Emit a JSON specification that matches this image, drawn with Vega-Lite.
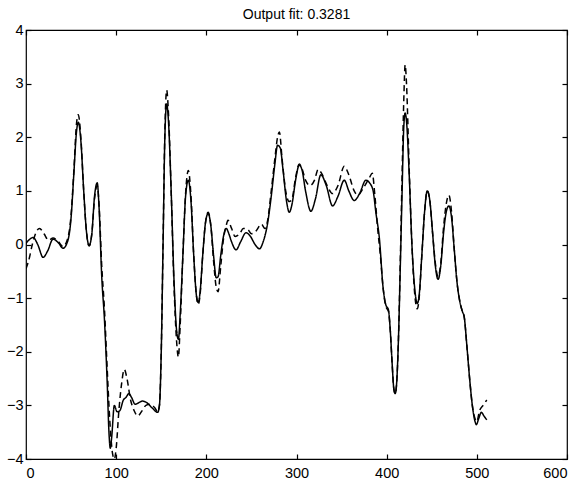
{
  "$schema": "https://vega.github.io/schema/vega-lite/v6.json",
  "width": 541,
  "height": 429,
  "autosize": {"type": "none"},
  "padding": {"left": 26, "top": 30, "right": 13, "bottom": 23},
  "background": "white",
  "title": {"text": "Output fit: 0.3281", "font": "Liberation Sans", "fontSize": 14, "fontWeight": "normal", "color": "black", "offset": 0},
  "config": {
    "view": {"stroke": "black", "strokeWidth": 1.2},
    "axis": {"domain": false, "tickColor": "black", "tickWidth": 1.2, "labelColor": "black", "labelFont": "Liberation Sans", "labelFontSize": 14.5, "grid": false, "tickSize": 5, "offset": -5, "title": null}
  },
  "data": {"values": [
    {"x":0,"y":0.02,"s":"solid"},{"x":3,"y":0.08,"s":"solid"},{"x":8,"y":0.13,"s":"solid"},{"x":13,"y":0.0,"s":"solid"},{"x":19,"y":-0.24,"s":"solid"},{"x":24,"y":-0.12,"s":"solid"},{"x":30,"y":0.1,"s":"solid"},{"x":36,"y":0.03,"s":"solid"},{"x":41,"y":-0.07,"s":"solid"},{"x":46,"y":0.05,"s":"solid"},{"x":50,"y":0.5,"s":"solid"},{"x":53,"y":1.3,"s":"solid"},{"x":56,"y":2.1,"s":"solid"},{"x":58,"y":2.28,"s":"solid"},{"x":61,"y":1.9,"s":"solid"},{"x":64,"y":1.0,"s":"solid"},{"x":67,"y":0.25,"s":"solid"},{"x":70,"y":-0.02,"s":"solid"},{"x":73,"y":0.2,"s":"solid"},{"x":76,"y":0.9,"s":"solid"},{"x":79,"y":1.15,"s":"solid"},{"x":81,"y":0.7,"s":"solid"},{"x":84,"y":-0.6,"s":"solid"},{"x":87,"y":-1.4,"s":"solid"},{"x":90,"y":-2.55,"s":"solid"},{"x":92,"y":-3.5,"s":"solid"},{"x":93.5,"y":-3.8,"s":"solid"},{"x":95,"y":-3.6,"s":"solid"},{"x":98,"y":-3.0,"s":"solid"},{"x":101,"y":-3.12,"s":"solid"},{"x":104,"y":-3.1,"s":"solid"},{"x":108,"y":-2.9,"s":"solid"},{"x":111,"y":-2.85,"s":"solid"},{"x":114,"y":-2.78,"s":"solid"},{"x":117,"y":-2.85,"s":"solid"},{"x":121,"y":-2.98,"s":"solid"},{"x":125,"y":-2.95,"s":"solid"},{"x":129,"y":-2.92,"s":"solid"},{"x":134,"y":-2.95,"s":"solid"},{"x":140,"y":-3.05,"s":"solid"},{"x":146,"y":-3.13,"s":"solid"},{"x":148,"y":-3.0,"s":"solid"},{"x":150,"y":-2.0,"s":"solid"},{"x":152,"y":0.0,"s":"solid"},{"x":154,"y":2.0,"s":"solid"},{"x":156,"y":2.62,"s":"solid"},{"x":158,"y":2.3,"s":"solid"},{"x":161,"y":1.0,"s":"solid"},{"x":164,"y":-0.6,"s":"solid"},{"x":167,"y":-1.6,"s":"solid"},{"x":169,"y":-1.77,"s":"solid"},{"x":171,"y":-1.3,"s":"solid"},{"x":174,"y":-0.2,"s":"solid"},{"x":177,"y":0.9,"s":"solid"},{"x":180,"y":1.2,"s":"solid"},{"x":183,"y":0.8,"s":"solid"},{"x":186,"y":-0.2,"s":"solid"},{"x":189,"y":-0.95,"s":"solid"},{"x":191,"y":-1.08,"s":"solid"},{"x":193,"y":-0.9,"s":"solid"},{"x":196,"y":-0.2,"s":"solid"},{"x":199,"y":0.4,"s":"solid"},{"x":202,"y":0.58,"s":"solid"},{"x":205,"y":0.35,"s":"solid"},{"x":208,"y":-0.2,"s":"solid"},{"x":211,"y":-0.62,"s":"solid"},{"x":213,"y":-0.6,"s":"solid"},{"x":216,"y":-0.2,"s":"solid"},{"x":219,"y":0.15,"s":"solid"},{"x":222,"y":0.3,"s":"solid"},{"x":225,"y":0.2,"s":"solid"},{"x":228,"y":0.05,"s":"solid"},{"x":233,"y":-0.1,"s":"solid"},{"x":238,"y":0.05,"s":"solid"},{"x":244,"y":0.22,"s":"solid"},{"x":249,"y":0.15,"s":"solid"},{"x":254,"y":0.0,"s":"solid"},{"x":259,"y":-0.08,"s":"solid"},{"x":263,"y":0.05,"s":"solid"},{"x":268,"y":0.4,"s":"solid"},{"x":272,"y":0.9,"s":"solid"},{"x":276,"y":1.5,"s":"solid"},{"x":279,"y":1.85,"s":"solid"},{"x":282,"y":1.8,"s":"solid"},{"x":285,"y":1.4,"s":"solid"},{"x":289,"y":0.8,"s":"solid"},{"x":292,"y":0.6,"s":"solid"},{"x":295,"y":0.75,"s":"solid"},{"x":299,"y":1.2,"s":"solid"},{"x":303,"y":1.48,"s":"solid"},{"x":306,"y":1.4,"s":"solid"},{"x":310,"y":1.0,"s":"solid"},{"x":316,"y":0.62,"s":"solid"},{"x":321,"y":0.85,"s":"solid"},{"x":327,"y":1.3,"s":"solid"},{"x":333,"y":1.1,"s":"solid"},{"x":340,"y":0.72,"s":"solid"},{"x":346,"y":0.9,"s":"solid"},{"x":353,"y":1.2,"s":"solid"},{"x":358,"y":1.0,"s":"solid"},{"x":364,"y":0.82,"s":"solid"},{"x":370,"y":0.95,"s":"solid"},{"x":377,"y":1.2,"s":"solid"},{"x":381,"y":1.15,"s":"solid"},{"x":385,"y":1.0,"s":"solid"},{"x":388,"y":0.6,"s":"solid"},{"x":392,"y":0.1,"s":"solid"},{"x":396,"y":-0.8,"s":"solid"},{"x":399,"y":-1.12,"s":"solid"},{"x":402,"y":-1.22,"s":"solid"},{"x":404,"y":-1.6,"s":"solid"},{"x":406,"y":-2.2,"s":"solid"},{"x":408,"y":-2.7,"s":"solid"},{"x":409.5,"y":-2.78,"s":"solid"},{"x":411,"y":-2.6,"s":"solid"},{"x":413,"y":-1.8,"s":"solid"},{"x":415,"y":-0.5,"s":"solid"},{"x":417,"y":0.9,"s":"solid"},{"x":419,"y":2.2,"s":"solid"},{"x":420.5,"y":2.45,"s":"solid"},{"x":422,"y":2.3,"s":"solid"},{"x":425,"y":1.3,"s":"solid"},{"x":428,"y":0.0,"s":"solid"},{"x":431,"y":-0.8,"s":"solid"},{"x":434,"y":-1.1,"s":"solid"},{"x":436,"y":-0.95,"s":"solid"},{"x":439,"y":-0.2,"s":"solid"},{"x":442,"y":0.6,"s":"solid"},{"x":445,"y":1.0,"s":"solid"},{"x":448,"y":0.8,"s":"solid"},{"x":451,"y":0.2,"s":"solid"},{"x":454,"y":-0.4,"s":"solid"},{"x":457,"y":-0.65,"s":"solid"},{"x":460,"y":-0.4,"s":"solid"},{"x":463,"y":0.2,"s":"solid"},{"x":466,"y":0.6,"s":"solid"},{"x":469,"y":0.72,"s":"solid"},{"x":472,"y":0.5,"s":"solid"},{"x":475,"y":-0.1,"s":"solid"},{"x":478,"y":-0.7,"s":"solid"},{"x":481,"y":-1.05,"s":"solid"},{"x":484,"y":-1.25,"s":"solid"},{"x":486,"y":-1.35,"s":"solid"},{"x":489,"y":-1.9,"s":"solid"},{"x":492,"y":-2.5,"s":"solid"},{"x":495,"y":-3.0,"s":"solid"},{"x":498,"y":-3.3,"s":"solid"},{"x":499.5,"y":-3.36,"s":"solid"},{"x":502,"y":-3.25,"s":"solid"},{"x":505,"y":-3.13,"s":"solid"},{"x":508,"y":-3.2,"s":"solid"},{"x":511,"y":-3.27,"s":"solid"},
    {"x":0,"y":-0.45,"s":"dashed"},{"x":3,"y":-0.3,"s":"dashed"},{"x":7,"y":0.0,"s":"dashed"},{"x":11,"y":0.22,"s":"dashed"},{"x":15,"y":0.3,"s":"dashed"},{"x":20,"y":0.2,"s":"dashed"},{"x":25,"y":0.08,"s":"dashed"},{"x":30,"y":0.12,"s":"dashed"},{"x":36,"y":0.05,"s":"dashed"},{"x":41,"y":-0.04,"s":"dashed"},{"x":46,"y":0.1,"s":"dashed"},{"x":50,"y":0.55,"s":"dashed"},{"x":53,"y":1.35,"s":"dashed"},{"x":56,"y":2.25,"s":"dashed"},{"x":58,"y":2.42,"s":"dashed"},{"x":61,"y":1.95,"s":"dashed"},{"x":64,"y":1.0,"s":"dashed"},{"x":67,"y":0.25,"s":"dashed"},{"x":70,"y":-0.03,"s":"dashed"},{"x":73,"y":0.2,"s":"dashed"},{"x":76,"y":0.85,"s":"dashed"},{"x":79,"y":1.1,"s":"dashed"},{"x":81,"y":0.75,"s":"dashed"},{"x":84,"y":-0.4,"s":"dashed"},{"x":87,"y":-1.2,"s":"dashed"},{"x":90,"y":-2.3,"s":"dashed"},{"x":93,"y":-3.3,"s":"dashed"},{"x":96,"y":-3.9,"s":"dashed"},{"x":98,"y":-4.0,"s":"dashed"},{"x":100,"y":-3.8,"s":"dashed"},{"x":103,"y":-3.1,"s":"dashed"},{"x":106,"y":-2.6,"s":"dashed"},{"x":109,"y":-2.33,"s":"dashed"},{"x":112,"y":-2.5,"s":"dashed"},{"x":116,"y":-2.9,"s":"dashed"},{"x":120,"y":-3.1,"s":"dashed"},{"x":124,"y":-3.2,"s":"dashed"},{"x":128,"y":-3.12,"s":"dashed"},{"x":133,"y":-3.0,"s":"dashed"},{"x":138,"y":-2.98,"s":"dashed"},{"x":143,"y":-3.05,"s":"dashed"},{"x":146,"y":-3.12,"s":"dashed"},{"x":148,"y":-3.0,"s":"dashed"},{"x":150,"y":-2.0,"s":"dashed"},{"x":152,"y":0.0,"s":"dashed"},{"x":154,"y":2.1,"s":"dashed"},{"x":156,"y":2.88,"s":"dashed"},{"x":158,"y":2.45,"s":"dashed"},{"x":161,"y":1.0,"s":"dashed"},{"x":164,"y":-0.7,"s":"dashed"},{"x":167,"y":-1.8,"s":"dashed"},{"x":169,"y":-2.1,"s":"dashed"},{"x":171,"y":-1.5,"s":"dashed"},{"x":174,"y":-0.2,"s":"dashed"},{"x":177,"y":0.95,"s":"dashed"},{"x":180,"y":1.38,"s":"dashed"},{"x":183,"y":0.9,"s":"dashed"},{"x":186,"y":-0.2,"s":"dashed"},{"x":189,"y":-0.95,"s":"dashed"},{"x":191,"y":-1.12,"s":"dashed"},{"x":193,"y":-0.95,"s":"dashed"},{"x":196,"y":-0.2,"s":"dashed"},{"x":199,"y":0.4,"s":"dashed"},{"x":202,"y":0.6,"s":"dashed"},{"x":205,"y":0.35,"s":"dashed"},{"x":208,"y":-0.3,"s":"dashed"},{"x":211,"y":-0.8,"s":"dashed"},{"x":213,"y":-0.88,"s":"dashed"},{"x":216,"y":-0.4,"s":"dashed"},{"x":219,"y":0.1,"s":"dashed"},{"x":222,"y":0.35,"s":"dashed"},{"x":224,"y":0.45,"s":"dashed"},{"x":228,"y":0.3,"s":"dashed"},{"x":232,"y":0.15,"s":"dashed"},{"x":237,"y":0.2,"s":"dashed"},{"x":241,"y":0.3,"s":"dashed"},{"x":246,"y":0.28,"s":"dashed"},{"x":250,"y":0.2,"s":"dashed"},{"x":255,"y":0.25,"s":"dashed"},{"x":261,"y":0.38,"s":"dashed"},{"x":265,"y":0.3,"s":"dashed"},{"x":268,"y":0.45,"s":"dashed"},{"x":272,"y":1.0,"s":"dashed"},{"x":276,"y":1.6,"s":"dashed"},{"x":279,"y":2.0,"s":"dashed"},{"x":281,"y":2.1,"s":"dashed"},{"x":284,"y":1.6,"s":"dashed"},{"x":288,"y":1.0,"s":"dashed"},{"x":292,"y":0.8,"s":"dashed"},{"x":295,"y":0.85,"s":"dashed"},{"x":299,"y":1.25,"s":"dashed"},{"x":303,"y":1.5,"s":"dashed"},{"x":306,"y":1.42,"s":"dashed"},{"x":310,"y":1.2,"s":"dashed"},{"x":315,"y":1.1,"s":"dashed"},{"x":320,"y":1.2,"s":"dashed"},{"x":324,"y":1.4,"s":"dashed"},{"x":328,"y":1.32,"s":"dashed"},{"x":334,"y":1.1,"s":"dashed"},{"x":340,"y":0.95,"s":"dashed"},{"x":346,"y":1.1,"s":"dashed"},{"x":353,"y":1.46,"s":"dashed"},{"x":358,"y":1.3,"s":"dashed"},{"x":364,"y":1.0,"s":"dashed"},{"x":368,"y":0.92,"s":"dashed"},{"x":374,"y":1.05,"s":"dashed"},{"x":381,"y":1.25,"s":"dashed"},{"x":384,"y":1.33,"s":"dashed"},{"x":387,"y":0.9,"s":"dashed"},{"x":390,"y":0.3,"s":"dashed"},{"x":393,"y":-0.2,"s":"dashed"},{"x":396,"y":-0.8,"s":"dashed"},{"x":399,"y":-1.15,"s":"dashed"},{"x":402,"y":-1.25,"s":"dashed"},{"x":404,"y":-1.6,"s":"dashed"},{"x":406,"y":-2.2,"s":"dashed"},{"x":408,"y":-2.7,"s":"dashed"},{"x":409.5,"y":-2.78,"s":"dashed"},{"x":411,"y":-2.6,"s":"dashed"},{"x":413,"y":-1.8,"s":"dashed"},{"x":415,"y":-0.4,"s":"dashed"},{"x":417,"y":1.2,"s":"dashed"},{"x":419,"y":2.7,"s":"dashed"},{"x":420.5,"y":3.35,"s":"dashed"},{"x":422,"y":3.0,"s":"dashed"},{"x":425,"y":1.4,"s":"dashed"},{"x":428,"y":0.0,"s":"dashed"},{"x":431,"y":-0.9,"s":"dashed"},{"x":434,"y":-1.2,"s":"dashed"},{"x":436,"y":-1.0,"s":"dashed"},{"x":439,"y":-0.2,"s":"dashed"},{"x":442,"y":0.6,"s":"dashed"},{"x":445,"y":1.0,"s":"dashed"},{"x":448,"y":0.8,"s":"dashed"},{"x":451,"y":0.2,"s":"dashed"},{"x":454,"y":-0.35,"s":"dashed"},{"x":457,"y":-0.6,"s":"dashed"},{"x":460,"y":-0.35,"s":"dashed"},{"x":463,"y":0.3,"s":"dashed"},{"x":466,"y":0.75,"s":"dashed"},{"x":469,"y":0.92,"s":"dashed"},{"x":472,"y":0.6,"s":"dashed"},{"x":475,"y":-0.1,"s":"dashed"},{"x":478,"y":-0.7,"s":"dashed"},{"x":481,"y":-1.05,"s":"dashed"},{"x":484,"y":-1.25,"s":"dashed"},{"x":486,"y":-1.35,"s":"dashed"},{"x":489,"y":-1.9,"s":"dashed"},{"x":492,"y":-2.5,"s":"dashed"},{"x":495,"y":-3.0,"s":"dashed"},{"x":498,"y":-3.25,"s":"dashed"},{"x":500,"y":-3.3,"s":"dashed"},{"x":503,"y":-3.1,"s":"dashed"},{"x":507,"y":-3.0,"s":"dashed"},{"x":511,"y":-2.9,"s":"dashed"}
  ]},
  "layer": [
    {
      "mark": {"type": "line", "interpolate": "monotone", "color": "black", "strokeWidth": 1.5, "clip": true},
      "encoding": {
        "x": {"field": "x", "type": "quantitative", "scale": {"domain": [0, 600], "nice": false, "zero": false}, "axis": {"orient": "bottom", "values": [0, 100, 200, 300, 400, 500, 600], "labelPadding": 7, "format": "d"}},
        "y": {"field": "y", "type": "quantitative", "scale": {"domain": [-4, 4], "nice": false}, "axis": {"orient": "left", "values": [-4, -3, -2, -1, 0, 1, 2, 3, 4], "labelPadding": 3, "format": "d"}},
        "detail": {"field": "s", "type": "nominal"},
        "strokeDash": {"field": "s", "type": "nominal", "scale": {"domain": ["solid", "dashed"], "range": [[1, 0], [6, 4]]}, "legend": null}
      }
    },
    {
      "mark": {"type": "line", "opacity": 0},
      "encoding": {
        "x": {"field": "x", "type": "quantitative", "axis": {"orient": "top", "values": [0, 100, 200, 300, 400, 500, 600], "labels": false}},
        "y": {"field": "y", "type": "quantitative", "axis": {"orient": "right", "values": [-4, -3, -2, -1, 0, 1, 2, 3, 4], "labels": false}},
        "detail": {"field": "s", "type": "nominal"}
      }
    }
  ],
  "resolve": {"axis": {"x": "independent", "y": "independent"}}
}
